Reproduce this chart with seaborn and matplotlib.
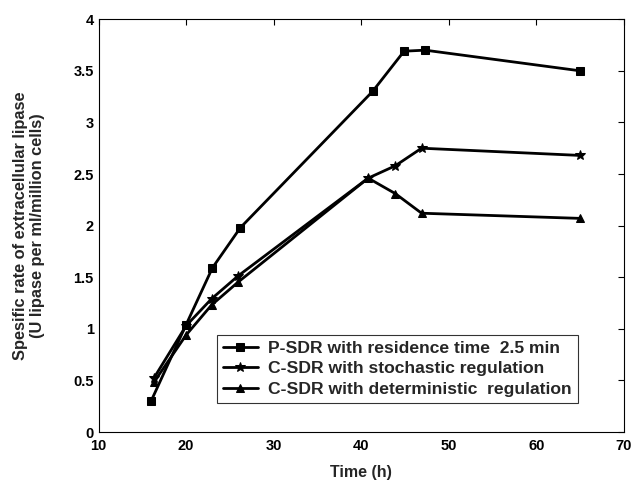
import matplotlib
matplotlib.use("Agg")
import matplotlib.pyplot as plt
import seaborn as sns
import pandas as pd

sns.set_style("white")
plt.rcParams['font.family'] = ['Liberation Sans', 'DejaVu Sans']
plt.rcParams['font.weight'] = 'bold'

labels = ["P-SDR with residence time  2.5 min",
          "C-SDR with stochastic regulation",
          "C-SDR with deterministic  regulation"]
t_p = [16, 20, 23, 26.2, 41.3, 44.9, 47.3, 65]
y_p = [0.30, 1.04, 1.59, 1.98, 3.30, 3.69, 3.70, 3.50]
t_s = [16.3, 20, 22.9, 25.9, 40.8, 43.9, 46.9, 65]
y_s = [0.52, 1.03, 1.29, 1.51, 2.46, 2.58, 2.75, 2.68]
t_d = [16.3, 20, 22.9, 25.9, 40.8, 43.9, 46.9, 65]
y_d = [0.48, 0.94, 1.23, 1.45, 2.46, 2.31, 2.12, 2.07]
markers = ["s", "*", "^"]

fig = plt.figure(figsize=(6.32, 4.8), dpi=100)
ax = fig.add_axes([0.156, 0.10, 0.831, 0.86])

for lab, t, y, m in zip(labels, [t_p, t_s, t_d], [y_p, y_s, y_d], markers):
    df = pd.DataFrame({"t": t, "y": y})
    ms = 7.5 if m == "*" else 5.5
    sns.lineplot(data=df, x="t", y="y", ax=ax, color="black", lw=2,
                 marker=m, markersize=ms, markeredgecolor="black",
                 label=lab, sort=False)

ax.set_xlim(10, 70)
ax.set_ylim(0, 4)
ax.set_xticks([10, 20, 30, 40, 50, 60, 70])
ax.set_yticks([0, 0.5, 1, 1.5, 2, 2.5, 3, 3.5, 4])
ax.set_yticklabels(["0", "0.5", "1", "1.5", "2", "2.5", "3", "3.5", "4"])
ax.tick_params(direction="in", top=True, right=True, length=4, width=0.8,
               labelsize=10.5, colors="black")
ax.tick_params(axis="x", pad=5)
for lbl in ax.get_xticklabels() + ax.get_yticklabels():
    lbl.set_fontweight("bold")
for s in ax.spines.values():
    s.set_color("black")
    s.set_linewidth(0.8)

ax.set_xlabel("Time (h)", fontsize=11.5, fontweight="bold", labelpad=9)
ax.set_ylabel("Spesific rate of extracellular lipase\n(U lipase per ml/million cells)",
              fontsize=11.8, fontweight="bold", labelpad=20)

leg = ax.legend(loc="lower left", bbox_to_anchor=(0.225, 0.07), fontsize=12.6,
                frameon=True, fancybox=False, edgecolor="black",
                handlelength=2.0, borderpad=0.35, labelspacing=0.3,
                handletextpad=0.6, borderaxespad=0)
leg.get_frame().set_linewidth(0.8)
for txt in leg.get_texts():
    txt.set_fontweight("bold")

fig.savefig("out.png", dpi=100)
